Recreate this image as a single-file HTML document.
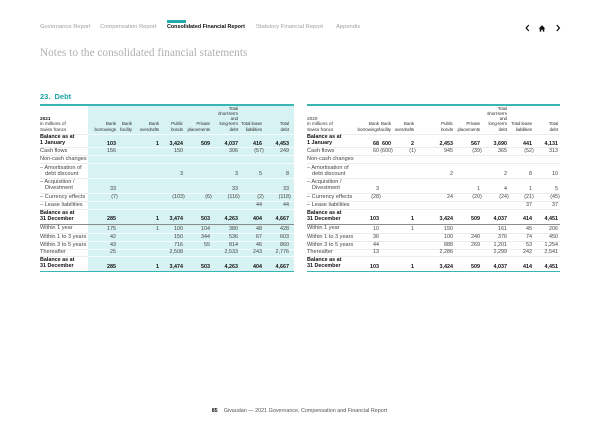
<!DOCTYPE html>
<html>
<head>
<meta charset="utf-8">
<style>
html,body{margin:0;padding:0;}
body{width:600px;height:424px;position:relative;background:#fff;font-family:"Liberation Sans",sans-serif;overflow:hidden;color:#333;}
.a{position:absolute;white-space:nowrap;}
.nav{position:absolute;top:24px;line-height:7px;font-size:5.8px;color:#a0a0a0;white-space:nowrap;}
.row{position:absolute;left:0;width:600px;height:6px;line-height:6px;font-size:5.4px;color:#444;}
.row span{position:absolute;white-space:nowrap;}
.row.b{font-weight:bold;color:#111;}
.lab{position:absolute;white-space:nowrap;font-size:5.6px;line-height:6.3px;color:#444;}
.lab.b{font-weight:bold;color:#111;font-size:5.4px;}
.ind{padding-left:5px;}
.h{position:absolute;bottom:292px;white-space:nowrap;text-align:right;font-size:4.6px;line-height:5.3px;color:#333;letter-spacing:-0.1px;}
.hl{position:absolute;bottom:292px;white-space:nowrap;text-align:left;font-size:4.7px;line-height:5.3px;color:#333;}
i{font-style:normal;margin-right:-1.8px;}
.L1{right:484px}.L2{right:468px}.L3{right:441px}.L4{right:417px}.L5{right:390px}.L6{right:362px}.L7{right:338px}.L8{right:311px}
.R1{right:221px}.R2{right:209px}.R3{right:186px}.R4{right:147px}.R5{right:120px}.R6{right:93px}.R7{right:68px}.R8{right:42px}
.sepL{position:absolute;left:40px;width:48px;height:0.6px;background:#ececec;}
.sepC{position:absolute;left:88px;width:206px;height:0.7px;background:#f4fcfc;}
.sepR{position:absolute;left:307px;width:253px;height:0.6px;background:#ececec;}
</style>
</head>
<body>

<div class="a" style="left:167px;top:19.5px;width:19px;height:3px;background:#22a9a8;"></div>
<div class="nav" style="left:40px;">Governance Report</div>
<div class="nav" style="left:100px;">Compensation Report</div>
<div class="nav" style="left:167px;font-weight:bold;color:#111;font-size:5.4px;">Consolidated Financial Report</div>
<div class="nav" style="left:256px;">Statutory Financial Report</div>
<div class="nav" style="left:336px;">Appendix</div>

<svg class="a" style="left:520px;top:22px;" width="45" height="12" viewBox="0 0 45 12">
  <polyline points="8.8,3 6.2,6 8.8,9" fill="none" stroke="#111" stroke-width="1.3"/>
  <path d="M18.8,6.6 L22,3.1 L25.2,6.6 L24.3,6.6 L24.3,9.6 L22.8,9.6 L22.8,7.8 L21.2,7.8 L21.2,9.6 L19.7,9.6 L19.7,6.6 Z" fill="#111"/>
  <polyline points="36.8,3 39.4,6 36.8,9" fill="none" stroke="#111" stroke-width="1.3"/>
</svg>

<div class="a" style="left:40px;top:47px;font-family:'Liberation Serif',serif;font-size:11.3px;line-height:12px;color:#b0b0b0;">Notes to the consolidated financial statements</div>

<div class="a" style="left:40px;top:91.5px;font-size:7.5px;line-height:9px;font-weight:bold;color:#1fa3a3;word-spacing:2px;">23. Debt</div>

<!-- LEFT TABLE -->
<div class="a" style="left:88px;top:106px;width:206px;height:165px;background:#d7f2f2;"></div>
<div class="a" style="left:40px;top:104.4px;width:254px;height:1.3px;background:#39b5b3;"></div>
<div class="a" style="left:40px;top:270.6px;width:254px;height:1.4px;background:#39b5b3;"></div>
<div class="a" style="left:40px;top:223.6px;width:254px;height:0.8px;background:#8a8a8a;"></div>

<div class="sepL" style="top:133.5px"></div><div class="sepC" style="top:133.5px"></div>
<div class="sepL" style="top:147px"></div><div class="sepC" style="top:147px"></div>
<div class="sepL" style="top:155px"></div><div class="sepC" style="top:155px"></div>
<div class="sepL" style="top:163px"></div><div class="sepC" style="top:163px"></div>
<div class="sepL" style="top:178px"></div><div class="sepC" style="top:178px"></div>
<div class="sepL" style="top:193px"></div><div class="sepC" style="top:193px"></div>
<div class="sepL" style="top:201px"></div><div class="sepC" style="top:201px"></div>
<div class="sepL" style="top:209px"></div><div class="sepC" style="top:209px"></div>
<div class="sepL" style="top:232.5px"></div><div class="sepC" style="top:232.5px"></div>
<div class="sepL" style="top:240.5px"></div><div class="sepC" style="top:240.5px"></div>
<div class="sepL" style="top:248.5px"></div><div class="sepC" style="top:248.5px"></div>
<div class="sepL" style="top:256px"></div><div class="sepC" style="top:256px"></div>

<div class="hl" style="left:40px;"><b style="color:#111">2021</b><br>in millions of<br>Swiss francs</div>
<div class="h L1">Bank<br>borrowings</div>
<div class="h L2">Bank<br>facility</div>
<div class="h L3">Bank<br>overdrafts</div>
<div class="h L4">Public<br>bonds</div>
<div class="h L5">Private<br>placements</div>
<div class="h L6">Total<br>short-term<br>and<br>long-term<br>debt</div>
<div class="h L7">Total lease<br>liabilities</div>
<div class="h L8">Total<br>debt</div>

<div class="lab b" style="left:40px;top:134.15px;">Balance as at<br>1 January</div>
<div class="lab" style="left:40px;top:147.85px;">Cash flows</div>
<div class="lab" style="left:40px;top:155.85px;">Non-cash changes</div>
<div class="lab" style="left:40px;top:164.85px;">– Amortisation of<br><span class="ind">debt discount</span></div>
<div class="lab" style="left:40px;top:179.05px;">– Acquisition /<br><span class="ind">Divestment</span></div>
<div class="lab" style="left:40px;top:193.85px;">– Currency effects</div>
<div class="lab" style="left:40px;top:201.85px;">– Lease liabilities</div>
<div class="lab b" style="left:40px;top:209.85px;">Balance as at<br>31 December</div>
<div class="lab" style="left:40px;top:225.35px;">Within 1 year</div>
<div class="lab" style="left:40px;top:233.55px;">Within 1 to 3 years</div>
<div class="lab" style="left:40px;top:241.55px;">Within 3 to 5 years</div>
<div class="lab" style="left:40px;top:249.15px;">Thereafter</div>
<div class="lab b" style="left:40px;top:257.05px;">Balance as at<br>31 December</div>

<div class="row b" style="top:140.6px"><span class="L1">103</span><span class="L3">1</span><span class="L4">3,424</span><span class="L5">509</span><span class="L6">4,037</span><span class="L7">416</span><span class="L8">4,453</span></div>
<div class="row" style="top:148px"><span class="L1">156</span><span class="L4">150</span><span class="L6">306</span><span class="L7">(57<i>)</i></span><span class="L8">249</span></div>
<div class="row" style="top:171.3px"><span class="L4">3</span><span class="L6">3</span><span class="L7">5</span><span class="L8">8</span></div>
<div class="row" style="top:185.5px"><span class="L1">33</span><span class="L6">33</span><span class="L8">33</span></div>
<div class="row" style="top:194px"><span class="L1">(7<i>)</i></span><span class="L4">(103<i>)</i></span><span class="L5">(6<i>)</i></span><span class="L6">(116<i>)</i></span><span class="L7">(2<i>)</i></span><span class="L8">(118<i>)</i></span></div>
<div class="row" style="top:202px"><span class="L7">44</span><span class="L8">44</span></div>
<div class="row b" style="top:216.3px"><span class="L1">285</span><span class="L3">1</span><span class="L4">3,474</span><span class="L5">503</span><span class="L6">4,263</span><span class="L7">404</span><span class="L8">4,667</span></div>
<div class="row" style="top:225.5px"><span class="L1">175</span><span class="L3">1</span><span class="L4">100</span><span class="L5">104</span><span class="L6">380</span><span class="L7">48</span><span class="L8">428</span></div>
<div class="row" style="top:233.7px"><span class="L1">42</span><span class="L4">150</span><span class="L5">344</span><span class="L6">536</span><span class="L7">67</span><span class="L8">603</span></div>
<div class="row" style="top:241.7px"><span class="L1">43</span><span class="L4">716</span><span class="L5">55</span><span class="L6">814</span><span class="L7">46</span><span class="L8">860</span></div>
<div class="row" style="top:249.3px"><span class="L1">25</span><span class="L4">2,508</span><span class="L6">2,533</span><span class="L7">243</span><span class="L8">2,776</span></div>
<div class="row b" style="top:263.5px"><span class="L1">285</span><span class="L3">1</span><span class="L4">3,474</span><span class="L5">503</span><span class="L6">4,263</span><span class="L7">404</span><span class="L8">4,667</span></div>

<!-- RIGHT TABLE -->
<div class="a" style="left:307px;top:104.4px;width:253px;height:1.3px;background:#39b5b3;"></div>
<div class="a" style="left:307px;top:270.6px;width:253px;height:1.4px;background:#39b5b3;"></div>
<div class="a" style="left:307px;top:223.6px;width:253px;height:0.8px;background:#8a8a8a;"></div>

<div class="sepR" style="top:133.5px"></div>
<div class="sepR" style="top:147px"></div>
<div class="sepR" style="top:155px"></div>
<div class="sepR" style="top:163px"></div>
<div class="sepR" style="top:178px"></div>
<div class="sepR" style="top:193px"></div>
<div class="sepR" style="top:201px"></div>
<div class="sepR" style="top:209px"></div>
<div class="sepR" style="top:232.5px"></div>
<div class="sepR" style="top:240.5px"></div>
<div class="sepR" style="top:248.5px"></div>
<div class="sepR" style="top:256px"></div>

<div class="hl" style="left:307px;">2020<br>in millions of<br>Swiss francs</div>
<div class="h R1">Bank<br>borrowings</div>
<div class="h R2">Bank<br>facility</div>
<div class="h R3">Bank<br>overdrafts</div>
<div class="h R4">Public<br>bonds</div>
<div class="h R5">Private<br>placements</div>
<div class="h R6">Total<br>short-term<br>and<br>long-term<br>debt</div>
<div class="h R7">Total lease<br>liabilities</div>
<div class="h R8">Total<br>debt</div>

<div class="lab b" style="left:307px;top:134.15px;">Balance as at<br>1 January</div>
<div class="lab" style="left:307px;top:147.85px;">Cash flows</div>
<div class="lab" style="left:307px;top:155.85px;">Non-cash changes</div>
<div class="lab" style="left:307px;top:164.85px;">– Amortisation of<br><span class="ind">debt discount</span></div>
<div class="lab" style="left:307px;top:179.05px;">– Acquisition /<br><span class="ind">Divestment</span></div>
<div class="lab" style="left:307px;top:193.85px;">– Currency effects</div>
<div class="lab" style="left:307px;top:201.85px;">– Lease liabilities</div>
<div class="lab b" style="left:307px;top:209.85px;">Balance as at<br>31 December</div>
<div class="lab" style="left:307px;top:225.35px;">Within 1 year</div>
<div class="lab" style="left:307px;top:233.55px;">Within 1 to 3 years</div>
<div class="lab" style="left:307px;top:241.55px;">Within 3 to 5 years</div>
<div class="lab" style="left:307px;top:249.15px;">Thereafter</div>
<div class="lab b" style="left:307px;top:257.05px;">Balance as at<br>31 December</div>

<div class="row b" style="top:140.6px"><span class="R1">68</span><span class="R2">600</span><span class="R3">2</span><span class="R4">2,453</span><span class="R5">567</span><span class="R6">3,690</span><span class="R7">441</span><span class="R8">4,131</span></div>
<div class="row" style="top:148px"><span class="R1">60</span><span class="R2">(600<i>)</i></span><span class="R3">(1<i>)</i></span><span class="R4">945</span><span class="R5">(39<i>)</i></span><span class="R6">365</span><span class="R7">(52<i>)</i></span><span class="R8">313</span></div>
<div class="row" style="top:171.3px"><span class="R4">2</span><span class="R6">2</span><span class="R7">8</span><span class="R8">10</span></div>
<div class="row" style="top:185.5px"><span class="R1">3</span><span class="R5">1</span><span class="R6">4</span><span class="R7">1</span><span class="R8">5</span></div>
<div class="row" style="top:194px"><span class="R1">(28<i>)</i></span><span class="R4">24</span><span class="R5">(20<i>)</i></span><span class="R6">(24<i>)</i></span><span class="R7">(21<i>)</i></span><span class="R8">(45<i>)</i></span></div>
<div class="row" style="top:202px"><span class="R7">37</span><span class="R8">37</span></div>
<div class="row b" style="top:216.3px"><span class="R1">103</span><span class="R3">1</span><span class="R4">3,424</span><span class="R5">509</span><span class="R6">4,037</span><span class="R7">414</span><span class="R8">4,451</span></div>
<div class="row" style="top:225.5px"><span class="R1">10</span><span class="R3">1</span><span class="R4">150</span><span class="R6">161</span><span class="R7">45</span><span class="R8">206</span></div>
<div class="row" style="top:233.7px"><span class="R1">36</span><span class="R4">100</span><span class="R5">240</span><span class="R6">376</span><span class="R7">74</span><span class="R8">450</span></div>
<div class="row" style="top:241.7px"><span class="R1">44</span><span class="R4">888</span><span class="R5">269</span><span class="R6">1,201</span><span class="R7">53</span><span class="R8">1,254</span></div>
<div class="row" style="top:249.3px"><span class="R1">13</span><span class="R4">2,286</span><span class="R6">2,299</span><span class="R7">242</span><span class="R8">2,541</span></div>
<div class="row b" style="top:263.5px"><span class="R1">103</span><span class="R3">1</span><span class="R4">3,424</span><span class="R5">509</span><span class="R6">4,037</span><span class="R7">414</span><span class="R8">4,451</span></div>

<div class="a" style="left:211.7px;top:408px;font-size:5.4px;line-height:6px;color:#555;"><b style="color:#111">85</b><span style="margin-left:6px;">Givaudan — 2021 Governance, Compensation and Financial Report</span></div>

</body>
</html>
